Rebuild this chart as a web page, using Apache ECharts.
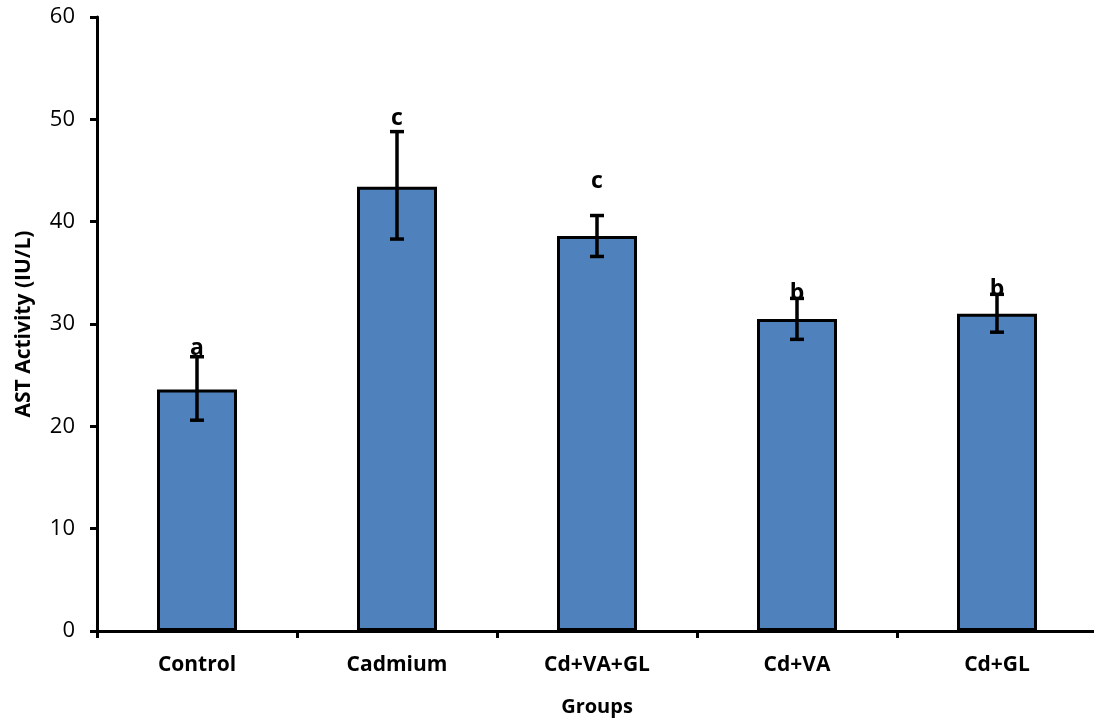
<!DOCTYPE html>
<html>
<head>
<meta charset="utf-8">
<script src="https://cdn.jsdelivr.net/npm/echarts@6/dist/echarts.min.js"></script>
<style>html,body{margin:0;padding:0;background:#fff;}#c{width:1094px;height:724px;}</style>
</head>
<body>
<div id="c"></div>
<script>
const categories = ['Control', 'Cadmium', 'Cd+VA+GL', 'Cd+VA', 'Cd+GL'];
const means = [23.6, 43.4, 38.6, 30.5, 31.0];
const errLow = [20.6, 38.3, 36.6, 28.5, 29.2];
const errHigh = [26.8, 48.8, 40.6, 32.5, 32.9];
const letters = ['a', 'c', 'c', 'b', 'b'];
const letterAt = [27.6, 50.1, 43.9, 33.0, 33.4];
const yTicks = [0, 10, 20, 30, 40, 50, 60];

const chart = echarts.init(document.getElementById('c'));
const font = '"Open Sans", "Liberation Sans", sans-serif';
chart.setOption({
  animation: false,
  backgroundColor: '#fff',
  grid: { left: 97, top: 17, bottom: 93, width: 1000, outerBoundsMode: 'none', containLabel: false },
  xAxis: {
    type: 'category',
    data: categories,
    name: 'Groups',
    nameLocation: 'middle',
    nameGap: 66,
    nameTextStyle: { fontFamily: font, fontWeight: 'bold', fontSize: 20, color: '#000' },
    axisLine: { lineStyle: { color: '#000', width: 3 } },
    axisTick: { show: true, length: 7, inside: false, lineStyle: { color: '#000', width: 3 } },
    axisLabel: { fontFamily: font, fontWeight: 'bold', fontSize: 21, color: '#000', margin: 24 }
  },
  yAxis: {
    type: 'value',
    min: yTicks[0],
    max: yTicks[yTicks.length - 1],
    interval: 10,
    name: 'AST Activity (IU/L)',
    nameLocation: 'middle',
    nameRotate: 90,
    nameGap: 62,
    nameTextStyle: { fontFamily: font, fontWeight: 'bold', fontSize: 21, color: '#000' },
    splitLine: { show: false },
    axisLine: { show: true, lineStyle: { color: '#000', width: 3 } },
    axisTick: { show: true, length: 7, lineStyle: { color: '#000', width: 3 } },
    axisLabel: { fontFamily: font, fontSize: 22, color: '#000', margin: 22 }
  },
  series: [
    {
      type: 'bar',
      data: means,
      barWidth: '40%',
      itemStyle: { color: '#4F81BD', borderColor: '#000', borderWidth: 3 }
    },
    {
      type: 'custom',
      data: categories.map((c, i) => [i, errLow[i], errHigh[i]]),
      z: 5,
      renderItem: function (params, api) {
        const lo = api.coord([api.value(0), api.value(1)]);
        const hi = api.coord([api.value(0), api.value(2)]);
        const hw = 7;
        const st = { stroke: '#000', lineWidth: 3.5 };
        return {
          type: 'group',
          children: [
            { type: 'line', shape: { x1: lo[0], y1: lo[1], x2: hi[0], y2: hi[1] }, style: st },
            { type: 'line', shape: { x1: lo[0] - hw, y1: lo[1], x2: lo[0] + hw, y2: lo[1] }, style: st },
            { type: 'line', shape: { x1: hi[0] - hw, y1: hi[1], x2: hi[0] + hw, y2: hi[1] }, style: st }
          ]
        };
      }
    },
    {
      type: 'custom',
      data: categories.map((c, i) => [i, letterAt[i]]),
      z: 6,
      renderItem: function (params, api) {
        const p = api.coord([api.value(0), api.value(1)]);
        return {
          type: 'text',
          x: p[0], y: p[1],
          style: {
            text: letters[params.dataIndex],
            fontFamily: font, fontWeight: 'bold', fontSize: 23,
            fill: '#000', align: 'center', verticalAlign: 'middle'
          }
        };
      }
    }
  ]
});
</script>
</body>
</html>
